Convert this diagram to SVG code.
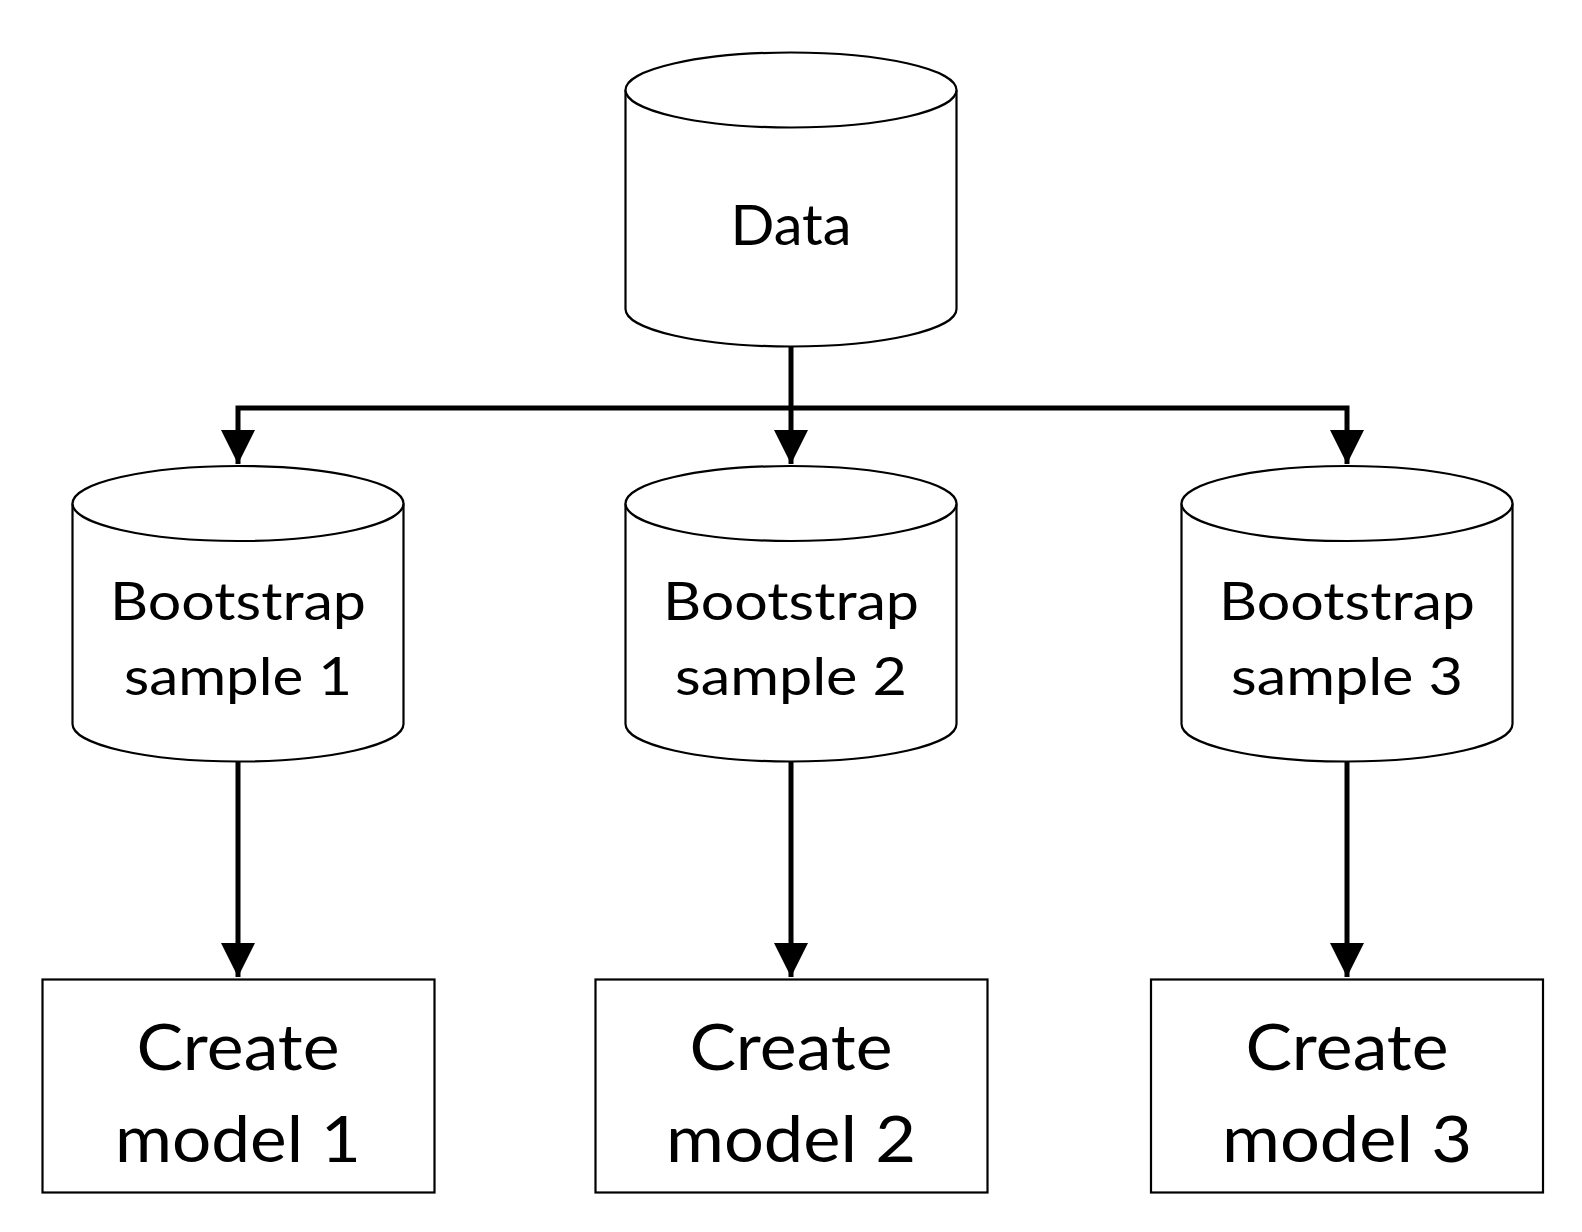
<svg xmlns="http://www.w3.org/2000/svg" width="1582" height="1232" viewBox="0 0 1582 1232">
<style>
.shape{fill:#fff;stroke:#000;stroke-width:2.2}
.conn{fill:none;stroke:#000;stroke-width:5;stroke-linejoin:miter}
.lbl{font-family:Lato,"Open Sans",sans-serif;fill:#000;text-anchor:middle}
.l1{font-size:56px}
.l2{font-size:52px}
.l3{font-size:63px}
</style>
<defs>
<marker id="ah" markerUnits="userSpaceOnUse" markerWidth="36" markerHeight="36" refX="34" refY="17" orient="auto">
<path d="M0,0 L34,17 L0,34 Z" fill="#000"/>
</marker>
</defs>
<rect width="1582" height="1232" fill="#fff"/>
<g id="connectors">
<path class="conn" d="M791,347 V464" marker-end="url(#ah)"/>
<path class="conn" d="M791,408 H238 V464" marker-end="url(#ah)"/>
<path class="conn" d="M791,408 H1347 V464" marker-end="url(#ah)"/>
<path class="conn" d="M238,762 V977" marker-end="url(#ah)"/>
<path class="conn" d="M791,762 V977" marker-end="url(#ah)"/>
<path class="conn" d="M1347,762 V977" marker-end="url(#ah)"/>
</g>
<g id="data">
<path class="shape" d="M625.5,90 V309 A165.5,37.5 0 0 0 956.5,309 V90"/>
<ellipse class="shape" cx="791" cy="90" rx="165.5" ry="37.5"/>
<text class="lbl l1" x="791" y="245" textLength="121" lengthAdjust="spacingAndGlyphs">Data</text>
</g>
<g id="bootstrap1">
<path class="shape" d="M72.5,503.5 V724 A165.5,37.5 0 0 0 403.5,724 V503.5"/>
<ellipse class="shape" cx="238" cy="503.5" rx="165.5" ry="37.5"/>
<text class="lbl l2" x="238" y="620" textLength="256" lengthAdjust="spacingAndGlyphs">Bootstrap</text>
<text class="lbl l2" x="238" y="695" textLength="228" lengthAdjust="spacingAndGlyphs">sample 1</text>
</g>
<g id="bootstrap2">
<path class="shape" d="M625.5,503.5 V724 A165.5,37.5 0 0 0 956.5,724 V503.5"/>
<ellipse class="shape" cx="791" cy="503.5" rx="165.5" ry="37.5"/>
<text class="lbl l2" x="791" y="620" textLength="256" lengthAdjust="spacingAndGlyphs">Bootstrap</text>
<text class="lbl l2" x="791" y="695" textLength="232" lengthAdjust="spacingAndGlyphs">sample 2</text>
</g>
<g id="bootstrap3">
<path class="shape" d="M1181.5,503.5 V724 A165.5,37.5 0 0 0 1512.5,724 V503.5"/>
<ellipse class="shape" cx="1347" cy="503.5" rx="165.5" ry="37.5"/>
<text class="lbl l2" x="1347" y="620" textLength="256" lengthAdjust="spacingAndGlyphs">Bootstrap</text>
<text class="lbl l2" x="1347" y="695" textLength="232" lengthAdjust="spacingAndGlyphs">sample 3</text>
</g>
<g id="model1">
<rect class="shape" x="42.5" y="979.5" width="392" height="213"/>
<text class="lbl l3" x="238" y="1070" textLength="203" lengthAdjust="spacingAndGlyphs">Create</text>
<text class="lbl l3" x="238" y="1162" textLength="246" lengthAdjust="spacingAndGlyphs">model 1</text>
</g>
<g id="model2">
<rect class="shape" x="595.5" y="979.5" width="392" height="213"/>
<text class="lbl l3" x="791" y="1070" textLength="203" lengthAdjust="spacingAndGlyphs">Create</text>
<text class="lbl l3" x="791" y="1162" textLength="250" lengthAdjust="spacingAndGlyphs">model 2</text>
</g>
<g id="model3">
<rect class="shape" x="1151" y="979.5" width="392" height="213"/>
<text class="lbl l3" x="1347" y="1070" textLength="203" lengthAdjust="spacingAndGlyphs">Create</text>
<text class="lbl l3" x="1347" y="1162" textLength="250" lengthAdjust="spacingAndGlyphs">model 3</text>
</g>
</svg>
